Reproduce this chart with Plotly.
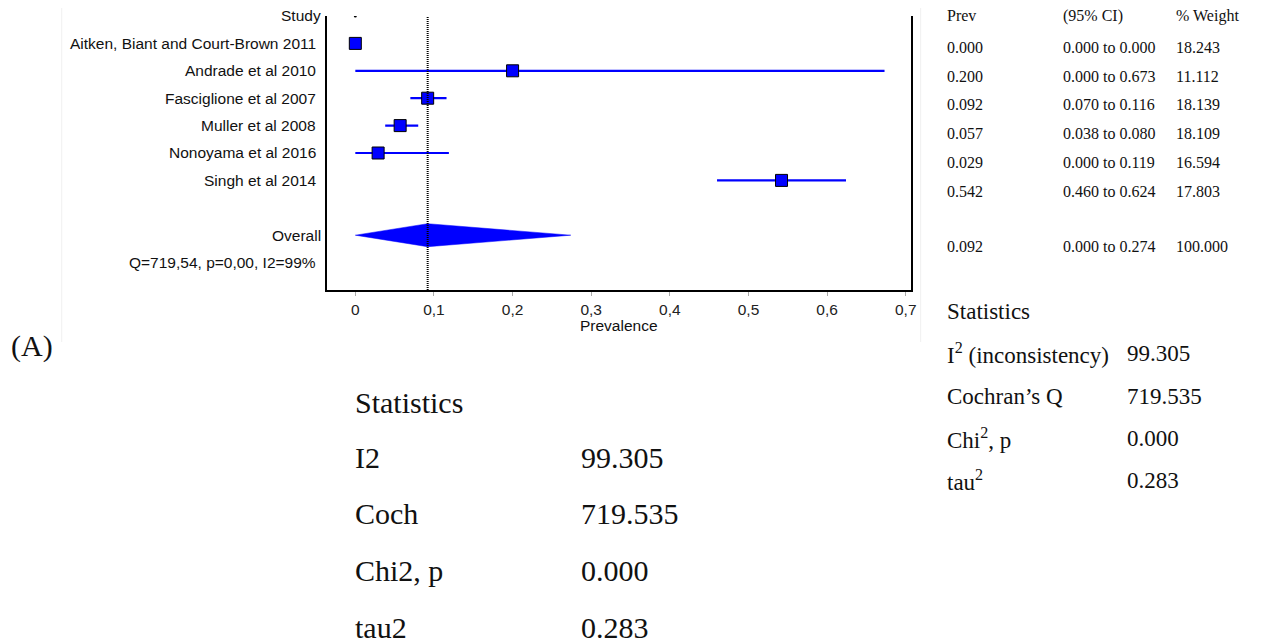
import plotly.graph_objects as go

# ---------------- data ----------------
studies = ["Aitken, Biant and Court-Brown 2011", "Andrade et al 2010",
           "Fasciglione et al 2007", "Muller et al 2008",
           "Nonoyama et al 2016", "Singh et al 2014"]
prev = [0.000, 0.200, 0.092, 0.057, 0.029, 0.542]
ci_lo = [0.000, 0.000, 0.070, 0.038, 0.000, 0.460]
ci_hi = [0.000, 0.673, 0.116, 0.080, 0.119, 0.624]
weight = [18.243, 11.112, 18.139, 18.109, 16.594, 17.803]

overall_prev = 0.092
overall_lo = 0.000
overall_hi = 0.274
overall_weight = 100.000

het_text = "Q=719,54, p=0,00, I2=99%"
x_ticks = [0, 0.1, 0.2, 0.3, 0.4, 0.5, 0.6, 0.7]
x_ticktext = ["0", "0,1", "0,2", "0,3", "0,4", "0,5", "0,6", "0,7"]

stat_labels_right = ["I<sup>2</sup> (inconsistency)", "Cochran’s Q", "Chi<sup>2</sup>, p", "tau<sup>2</sup>"]
stat_labels_bottom = ["I2", "Coch", "Chi2, p", "tau2"]
stat_values = [99.305, 719.535, 0.000, 0.283]

# ---------------- layout helpers ----------------
W, H = 1270, 643
OFF = 8  # default page body margin
def px(x):
    return (x - OFF) / W
def py(y):
    return 1 - (y - OFF) / H

SANS = "Arial, Liberation Sans, sans-serif"
SERIF = "Times New Roman, Liberation Serif, serif"
BLUE = "#0000FF"

rows = list(range(1, len(studies) + 1))
overall_row = len(studies) + 2
het_row = overall_row + 1

fig = go.Figure()

# confidence intervals + squares
fig.add_trace(go.Scatter(
    x=prev, y=rows, mode="markers",
    marker=dict(symbol="square", size=12, color=BLUE, line=dict(color="black", width=1)),
    error_x=dict(type="data", symmetric=False,
                 array=[h - p for h, p in zip(ci_hi, prev)],
                 arrayminus=[p - l for p, l in zip(prev, ci_lo)],
                 width=0, thickness=2.2, color=BLUE),
    hoverinfo="skip"))

# tiny dot on header row
fig.add_trace(go.Scatter(x=[0], y=[0], mode="markers",
                         marker=dict(size=3, color="black"), hoverinfo="skip"))

# overall diamond
dh = 0.42
fig.add_trace(go.Scatter(
    x=[overall_lo, overall_prev, overall_hi, overall_prev, overall_lo],
    y=[overall_row, overall_row - dh, overall_row, overall_row + dh, overall_row],
    mode="lines", fill="toself", fillcolor=BLUE, line=dict(color=BLUE, width=0.5),
    hoverinfo="skip"))

# reference line at overall estimate
fig.add_shape(type="line", xref="x", yref="y domain", x0=overall_prev, x1=overall_prev,
              y0=0, y1=1, line=dict(color="black", width=2, dash="1px,1px"), layer="above")

# faint panel borders
for xb in (62, 925):
    fig.add_shape(type="line", xref="paper", yref="paper", x0=px(xb), x1=px(xb),
                  y0=py(0), y1=py(342), line=dict(color="#f0f0f0", width=1))

fig.update_layout(
    width=W, height=H, margin=dict(l=0, r=0, t=0, b=0),
    showlegend=False, plot_bgcolor="white", paper_bgcolor="white",
    xaxis=dict(domain=[px(329), px(915)], range=[-0.0354, 0.7063],
               tickvals=x_ticks, ticktext=x_ticktext, ticks="outside", ticklen=4,
               tickcolor="#aaaaaa", tickwidth=1, showline=True, linecolor="black",
               linewidth=2, showgrid=False, zeroline=False,
               tickfont=dict(family=SANS, size=15.5, color="#222")),
    yaxis=dict(domain=[py(290), py(16)], range=[10, 0], showticklabels=False,
               showline=True, mirror=True, linecolor="black", linewidth=2,
               showgrid=False, zeroline=False, ticks=""),
)

ann = []
def add(text, x, y, xanchor="left", size=15.5, family=SANS, yref="paper", color="#111"):
    ann.append(dict(text=text, x=x, y=y, xref="paper", yref=yref, xanchor=xanchor,
                    yanchor="middle", showarrow=False,
                    font=dict(family=family, size=size, color=color)))

# forest labels
add("Study", px(324), 0, "right", yref="y")
for r, s in zip(rows, studies):
    add(s, px(319), r, "right", yref="y")
add("Overall", px(324), overall_row, "right", yref="y")
add(het_text, px(319), het_row, "right", yref="y")
add("Prevalence", px(622), py(325), "center")

# right table
tx = [949, 1066, 1180]
add("Prev", px(tx[0]), py(16), size=16, family=SERIF)
add("(95% CI)", px(tx[1]), py(16), size=16, family=SERIF)
add("% Weight", px(tx[2]), py(16), size=16, family=SERIF)
for i in range(len(studies)):
    yy = 47.3 + i * 28.8
    add(f"{prev[i]:.3f}", px(tx[0]), py(yy), size=16, family=SERIF)
    add(f"{ci_lo[i]:.3f} to {ci_hi[i]:.3f}", px(tx[1]), py(yy), size=16, family=SERIF)
    add(f"{weight[i]:.3f}", px(tx[2]), py(yy), size=16, family=SERIF)
add(f"{overall_prev:.3f}", px(tx[0]), py(246), size=16, family=SERIF)
add(f"{overall_lo:.3f} to {overall_hi:.3f}", px(tx[1]), py(246), size=16, family=SERIF)
add(f"{overall_weight:.3f}", px(tx[2]), py(246), size=16, family=SERIF)

# right statistics block
add("Statistics", px(949), py(312), size=23, family=SERIF)
for i, (lab, val) in enumerate(zip(stat_labels_right, stat_values)):
    yy = 354 + i * 42
    add(lab, px(949), py(yy), size=23, family=SERIF)
    add(f"{val:.3f}", px(1130), py(yy), size=23, family=SERIF)

# panel label
add("(A)", px(9), py(346), size=30, family=SERIF)

# bottom statistics block
add("Statistics", px(355), py(402), size=30, family=SERIF)
for i, (lab, val) in enumerate(zip(stat_labels_bottom, stat_values)):
    yy = 457 + i * 56.7
    add(lab, px(355), py(yy), size=30, family=SERIF)
    add(f"{val:.3f}", px(582), py(yy), size=30, family=SERIF)

fig.update_layout(annotations=ann)
fig.write_html("out.html")
